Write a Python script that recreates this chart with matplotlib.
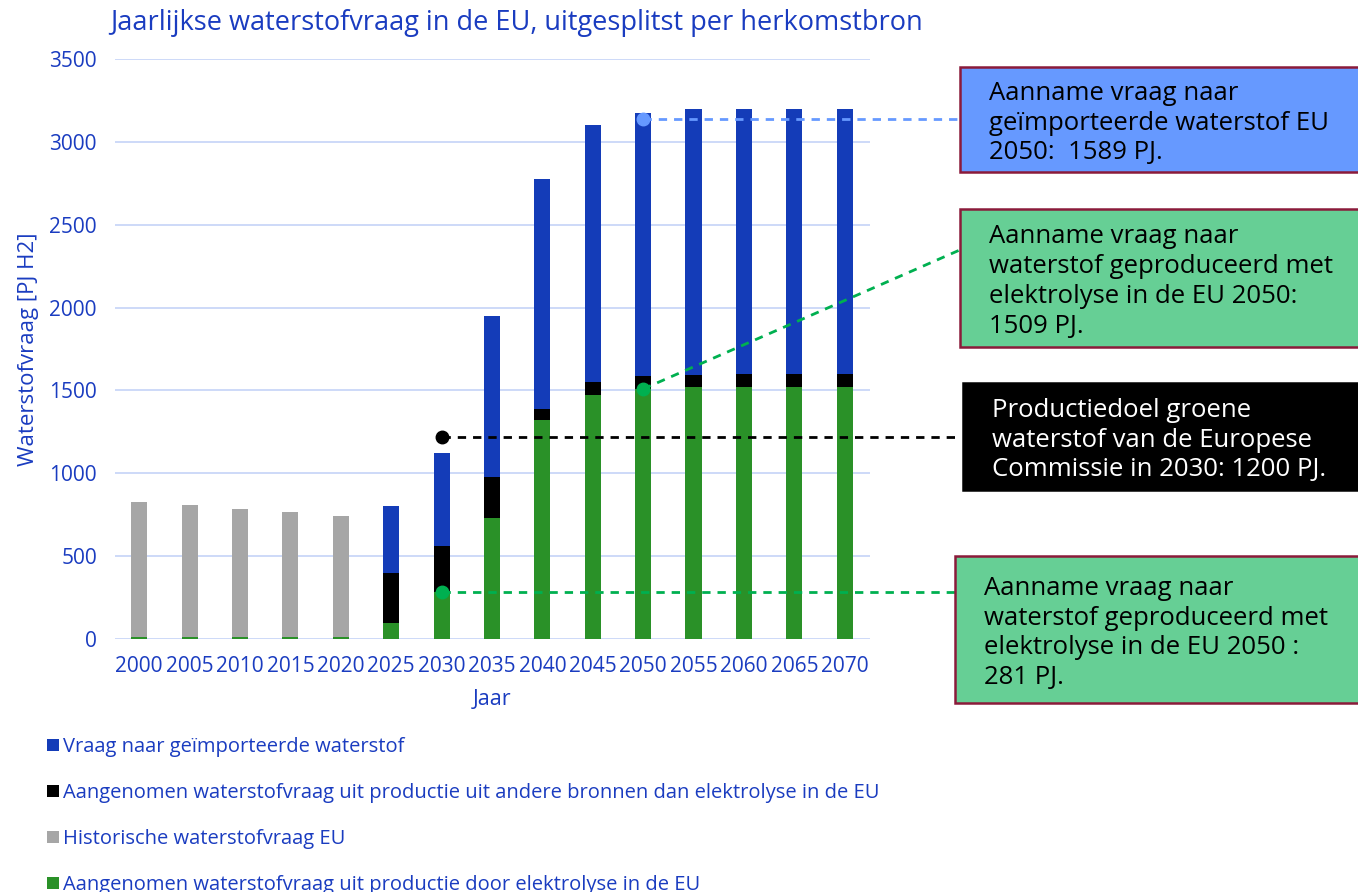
import matplotlib.pyplot as plt
import numpy as np

plt.rcParams['font.family'] = ['Open Sans', 'DejaVu Sans']

# data (PJ H2)
years = ['2000', '2005', '2010', '2015', '2020', '2025', '2030', '2035',
         '2040', '2045', '2050', '2055', '2060', '2065', '2070']
electrolyse = [10, 10, 10, 10, 10, 96, 281, 731, 1321, 1473, 1509, 1518, 1518, 1518, 1518]
historisch = [818, 798, 776, 754, 732, 0, 0, 0, 0, 0, 0, 0, 0, 0, 0]
andere = [0, 0, 0, 0, 0, 302, 279, 244, 65, 77, 76, 74, 80, 80, 80]
import_ = [0, 0, 0, 0, 0, 404, 564, 975, 1393, 1554, 1589, 1605, 1603, 1603, 1603]

# annotation values
ann_import = 3140
ann_elek_2050 = 1509
ann_doel_2030 = 1220
ann_elek_2030 = 281

blue = '#143cb8'
txt_blue = '#1a3cc0'
green = '#2a9128'
grey = '#a6a6a6'

fig = plt.figure(figsize=(13.58, 8.92), dpi=100)
ax = fig.add_axes([0.0847, 0.2836, 0.5559, 0.6502])

x = np.arange(len(years))
w = 0.32
b1 = ax.bar(x, electrolyse, w, color=green, zorder=3)
bot = np.array(electrolyse)
b2 = ax.bar(x, historisch, w, bottom=bot, color=grey, zorder=3)
bot = bot + np.array(historisch)
b3 = ax.bar(x, andere, w, bottom=bot, color='black', zorder=3)
bot = bot + np.array(andere)
b4 = ax.bar(x, import_, w, bottom=bot, color=blue, zorder=3)

ax.set_xlim(-0.48, 14.5)
ax.set_ylim(0, 3500)
ax.set_yticks(np.arange(0, 3501, 500))
ax.set_xticks(x)
ax.set_xticklabels(years)
ax.grid(axis='y', color='#c5d3f7', linewidth=1.2, zorder=0)
for s in ax.spines.values():
    s.set_visible(False)
ax.tick_params(length=0, colors=txt_blue, labelsize=15)
ax.tick_params(axis='y', pad=13)
ax.tick_params(axis='x', pad=12)
ax.set_xlabel('Jaar', color=txt_blue, fontsize=15.5, labelpad=9)
ax.set_ylabel('Waterstofvraag [PJ H2]', color=txt_blue, fontsize=16, labelpad=7)
fig.text(0.081, 0.974, 'Jaarlijkse waterstofvraag in de EU, uitgesplitst per herkomstbron',
         color=txt_blue, fontsize=19.5, va='center')

# annotation lines (to the boxes outside the axes)
xe = 16.3
ax.plot([10, xe], [ann_import, ann_import], ls=(0, (3, 2.5)), color='#6699ff', lw=2, clip_on=False, zorder=4)
ax.plot([10], [ann_import], 'o', color='#6699ff', ms=9, clip_on=False, zorder=5)
ax.plot([10, xe], [ann_elek_2050, 2350], ls=(0, (3, 2.5)), color='#00b050', lw=2, clip_on=False, zorder=4)
ax.plot([10], [ann_elek_2050], 'o', color='#00b050', ms=9, clip_on=False, zorder=5)
ax.plot([6, xe], [ann_doel_2030, ann_doel_2030], ls=(0, (3, 2.5)), color='black', lw=2, clip_on=False, zorder=4)
ax.plot([6], [ann_doel_2030], 'o', color='black', ms=9, clip_on=False, zorder=5)
ax.plot([6, xe], [ann_elek_2030, ann_elek_2030], ls=(0, (3, 2.5)), color='#00b050', lw=2, clip_on=False, zorder=4)
ax.plot([6], [ann_elek_2030], 'o', color='#00b050', ms=9, clip_on=False, zorder=5)

# boxes (pixel layout -> figure fraction)
W, H = 1358, 892
boxes = [
    (960, 67, 172, '#6699ff', '#8b1a3a', 'black',
     'Aanname vraag naar\ngeïmporteerde waterstof EU\n2050:  1589 PJ.'),
    (960, 209, 347, '#66cf95', '#8b1a3a', 'black',
     'Aanname vraag naar\nwaterstof geproduceerd met\nelektrolyse in de EU 2050:\n1509 PJ.'),
    (963, 383, 490, 'black', 'black', 'white',
     'Productiedoel groene\nwaterstof van de Europese\nCommissie in 2030: 1200 PJ.'),
    (955, 556, 703, '#66cf95', '#8b1a3a', 'black',
     'Aanname vraag naar\nwaterstof geproduceerd met\nelektrolyse in de EU 2050 :\n281 PJ.'),
]
for x0, y0, y1, fc, ec, tc, txt in boxes:
    r = plt.Rectangle((x0 / W, 1 - y1 / H), (W + 5 - x0) / W, (y1 - y0) / H,
                      transform=fig.transFigure, facecolor=fc, edgecolor=ec, lw=1.8)
    fig.add_artist(r)
    fig.text((x0 + 29) / W, 1 - (y0 + y1) / 2 / H - 0.004, txt, color=tc, fontsize=18.5,
             va='center', ha='left', linespacing=1.25)

# legend
handles = [b4, b3, b2, b1]
labels = ['Vraag naar geïmporteerde waterstof',
          'Aangenomen waterstofvraag uit productie uit andere bronnen dan elektrolyse in de EU',
          'Historische waterstofvraag EU',
          'Aangenomen waterstofvraag uit productie door elektrolyse in de EU']
fig.legend(handles, labels, loc='upper left', bbox_to_anchor=(0.029, 0.183), frameon=False,
           labelcolor=txt_blue, fontsize=14.5, handlelength=0.55, handleheight=0.55,
           handletextpad=0.2, labelspacing=1.3, borderaxespad=0)

fig.savefig('out.png', dpi=100)
